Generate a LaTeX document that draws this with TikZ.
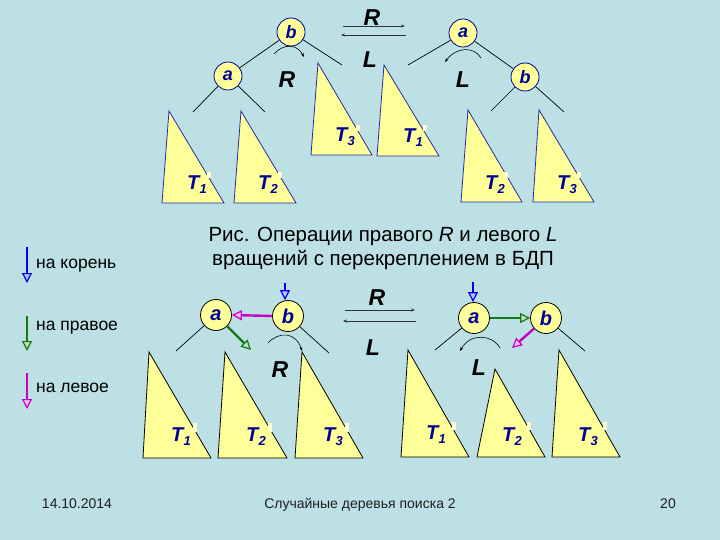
\documentclass[tikz,border=0pt]{standalone}
\usepackage{fontspec}
\setmainfont{Liberation Sans}
\usetikzlibrary{arrows.meta}
\definecolor{bg}{RGB}{188,224,228}
\definecolor{tri}{RGB}{255,255,153}
\definecolor{patch}{RGB}{255,255,205}
\definecolor{navy}{RGB}{0,0,150}
\definecolor{triedge}{RGB}{40,40,170}
\definecolor{grn}{RGB}{20,120,20}
\definecolor{mag}{RGB}{200,0,200}
\definecolor{blu}{RGB}{0,0,240}
\definecolor{foot}{RGB}{30,30,30}
\newcommand\Tlab[1]{T\kern0.3pt\raisebox{-4pt}{\fontsize{13}{13}\selectfont #1}}
\newcommand\TlabI[1]{T\kern0.3pt\raisebox{-4pt}{\fontsize{13}{13}\selectfont\itshape #1}}
\begin{document}
\begin{tikzpicture}[x=1pt,y=-1pt,
  vtx/.style={circle,draw=navy,fill=tri,minimum size=28pt,inner sep=0pt,line width=0.8pt,
    font=\bfseries\itshape\fontsize{18}{18}\selectfont,text=navy},
  vtxb/.style={vtx,draw=black,minimum size=31pt,font=\bfseries\itshape\fontsize{20}{20}\selectfont},
  link/.style={black,line width=0.7pt},
  tritop/.style={fill=tri,draw=triedge,line width=0.8pt},
  tribot/.style={fill=tri,draw=black,line width=0.8pt},
  rlab/.style={font=\bfseries\itshape\fontsize{23}{23}\selectfont,inner sep=0pt},
  tlab/.style={font=\bfseries\itshape\fontsize{20}{20}\selectfont,text=navy,inner sep=0pt},
  patchst/.style={fill=patch},
  rot/.style={black,line width=0.6pt,-{Stealth[length=4pt,width=3pt]}},
  mid/.style={black!80,line width=0.8pt,-{Stealth[length=4pt,width=3pt]}},
  colarr/.style={line width=2.4pt,-{Triangle[length=10pt,width=10pt,line width=1.2pt,fill=#1!25!white]},draw=#1},
  legtxt/.style={font=\fontsize{17.5}{17.5}\selectfont,anchor=west,inner sep=0pt},
  foottxt/.style={font=\fontsize{14}{14}\selectfont,text=foot,inner sep=0pt,anchor=base}
]
\fill[bg] (0,0) rectangle (720,540);
\useasboundingbox (0,0) rectangle (720,540);

% ===== top left tree =====
\node[vtx] (tlb) at (291,32) {b};
\node[vtx] (tla) at (228,76) {a};
\coordinate (tlbr) at (342,65);
\coordinate (tlal) at (193,112);
\coordinate (tlar) at (265,112);
\draw[link] (tlb) -- (tla);
\draw[link] (tlb) -- (tlbr);
\draw[link] (tla) -- (tlal);
\draw[link] (tla) -- (tlar);
\draw[tritop] (169,111) -- (162,203) -- (224,203) -- cycle;
\draw[tritop] (241,111) -- (234,203) -- (296,203) -- cycle;
\draw[tritop] (318,63) -- (311,155) -- (372,155) -- cycle;
\fill[patchst] (207,172) rectangle (211,178);
\fill[patchst] (278,172) rectangle (282,178);
\fill[patchst] (356,125) rectangle (360,131);
\node[tlab] (tlT1) at (197,185) {\Tlab{1}};
\node[tlab] (tlT2) at (268,185) {\Tlab{2}};
\node[tlab] (tlT3) at (345,137) {\Tlab{3}};
\coordinate (tlrs) at (274,54);
\coordinate (tlre) at (304,57);
\draw[rot] (tlrs) .. controls (284,43) and (297,44) .. (tlre);
\node[rlab] (tlR) at (287,80) {R};

% ===== top middle =====
\node[rlab] (tmR) at (372,18) {R};
\node[rlab] (tmL) at (370,60) {L};
\coordinate (tm1) at (343,26);
\coordinate (tm2) at (405,26);
\coordinate (tm3) at (406,35);
\coordinate (tm4) at (341,35);
\draw[mid] (tm1) -- (tm2);
\draw[mid] (tm3) -- (tm4);

% ===== top right tree =====
\node[vtx] (tra) at (463,33) {a};
\node[vtx] (trb) at (525,77) {b};
\coordinate (tral) at (408,65);
\coordinate (trbl) at (491,111);
\coordinate (trbr) at (564,112);
\draw[link] (tra) -- (tral);
\draw[link] (tra) -- (trb);
\draw[link] (trb) -- (trbl);
\draw[link] (trb) -- (trbr);
\draw[tritop] (384,65) -- (377,156) -- (439,156) -- cycle;
\draw[tritop] (468,110) -- (461,202) -- (522,202) -- cycle;
\draw[tritop] (539,110) -- (533,202) -- (594,202) -- cycle;
\fill[patchst] (423,125) rectangle (427,131);
\fill[patchst] (504,172) rectangle (508,178);
\fill[patchst] (577,172) rectangle (581,178);
\node[tlab] (trT1) at (413,138) {\Tlab{1}};
\node[tlab] (trT2) at (495,185) {\Tlab{2}};
\node[tlab] (trT3) at (567,185) {\Tlab{3}};
\coordinate (trls) at (481,58);
\coordinate (trle) at (445,62);
\draw[rot] (trls) .. controls (474,46) and (456,47) .. (trle);
\node[rlab] (trL) at (463,80) {L};

% ===== caption =====
\node[font=\fontsize{20.5}{24}\selectfont,align=center,inner sep=0pt] (cap) at (383,248)
  {Рис. Операции правого \textit{R} и левого \textit{L}\\вращений с перекреплением в БДП};

% ===== legend =====
\coordinate (lg1s) at (27,247); \coordinate (lg1e) at (27,283);
\coordinate (lg2s) at (27,316); \coordinate (lg2e) at (27,351);
\coordinate (lg3s) at (27,373); \coordinate (lg3e) at (27,409);
\draw[colarr=blu] (lg1s) -- (lg1e);
\draw[colarr=grn] (lg2s) -- (lg2e);
\draw[colarr=mag] (lg3s) -- (lg3e);
\node[legtxt] (lt1) at (36,266) {на корень};
\node[legtxt] (lt2) at (36,328) {на правое};
\node[legtxt] (lt3) at (36,388) {на левое};

% ===== bottom left =====
\draw[tribot] (149,352) -- (143,458) -- (211,458) -- cycle;
\draw[tribot] (225,352) -- (218,458) -- (287,458) -- cycle;
\draw[tribot] (302,352) -- (295,458) -- (363,458) -- cycle;
\fill[patchst] (193,423) rectangle (197,432);
\fill[patchst] (268,423) rectangle (272,432);
\fill[patchst] (345,423) rectangle (349,432);
\node[tlab] (blT1) at (181,437) {\TlabI{1}};
\node[tlab] (blT2) at (256,437) {\TlabI{2}};
\node[tlab] (blT3) at (333,437) {\TlabI{3}};
\node[vtxb] (bla) at (216,315) {a};
\node[vtxb] (blb) at (288,316) {b};
\coordinate (blal) at (176,351);
\coordinate (blbr) at (329,353);
\draw[link] (bla) -- (blal);
\draw[link] (blb) -- (blbr);
\coordinate (blbt) at (285,283);
\draw[colarr=blu,line width=1.6pt] (blbt) -- (blb.north -| blbt);
\draw[colarr=mag] (blb.west) -- (bla.east);
\coordinate (blg) at (251,350);
\draw[colarr=grn] (bla) -- (blg);
\coordinate (blrs) at (268,343);
\coordinate (blre) at (302,351);
\draw[rot] (blrs) .. controls (279,331) and (296,332) .. (blre);
\node[rlab] (blR) at (280,370) {R};

% ===== bottom middle =====
\node[rlab] (bmR) at (377,298) {R};
\node[rlab] (bmL) at (373,348) {L};
\coordinate (bm1) at (345,310);
\coordinate (bm2) at (415,310);
\coordinate (bm3) at (416,321);
\coordinate (bm4) at (343,321);
\draw[mid] (bm1) -- (bm2);
\draw[mid] (bm3) -- (bm4);

% ===== bottom right =====
\draw[tribot] (408,350) -- (401,457) -- (469,457) -- cycle;
\draw[tribot] (495,369) -- (477,457) -- (545,457) -- cycle;
\draw[tribot] (559,350) -- (552,457) -- (620,457) -- cycle;
\fill[patchst] (452,422) rectangle (456,430);
\fill[patchst] (527,422) rectangle (531,430);
\fill[patchst] (603,422) rectangle (607,430);
\node[tlab] (brT1) at (436,435) {\TlabI{1}};
\node[tlab] (brT2) at (512,437) {\TlabI{2}};
\node[tlab] (brT3) at (588,437) {\TlabI{3}};
\node[vtxb] (bra) at (474,318) {a};
\node[vtxb] (brb) at (546,318) {b};
\coordinate (bral) at (435,350);
\coordinate (brbr) at (585,351);
\draw[link] (bra) -- (bral);
\draw[link] (brb) -- (brbr);
\coordinate (brat) at (473,282);
\draw[colarr=blu,line width=1.6pt] (brat) -- (bra.north -| brat);
\draw[colarr=grn] (bra.east) -- (brb.west);
\coordinate (brm) at (512,348);
\draw[colarr=mag] (brb) -- (brm);
\coordinate (brls) at (500,348);
\coordinate (brle) at (460,351);
\draw[rot] (brls) .. controls (492,334) and (470,333) .. (brle);
\node[rlab] (brL) at (479,368) {L};

% ===== footer =====
\node[foottxt] (fdate) at (77,508) {14.10.2014};
\node[foottxt] (ftitle) at (360,508) {Случайные деревья поиска 2};
\node[foottxt] (fnum) at (668,508) {20};
\end{tikzpicture}
\end{document}
